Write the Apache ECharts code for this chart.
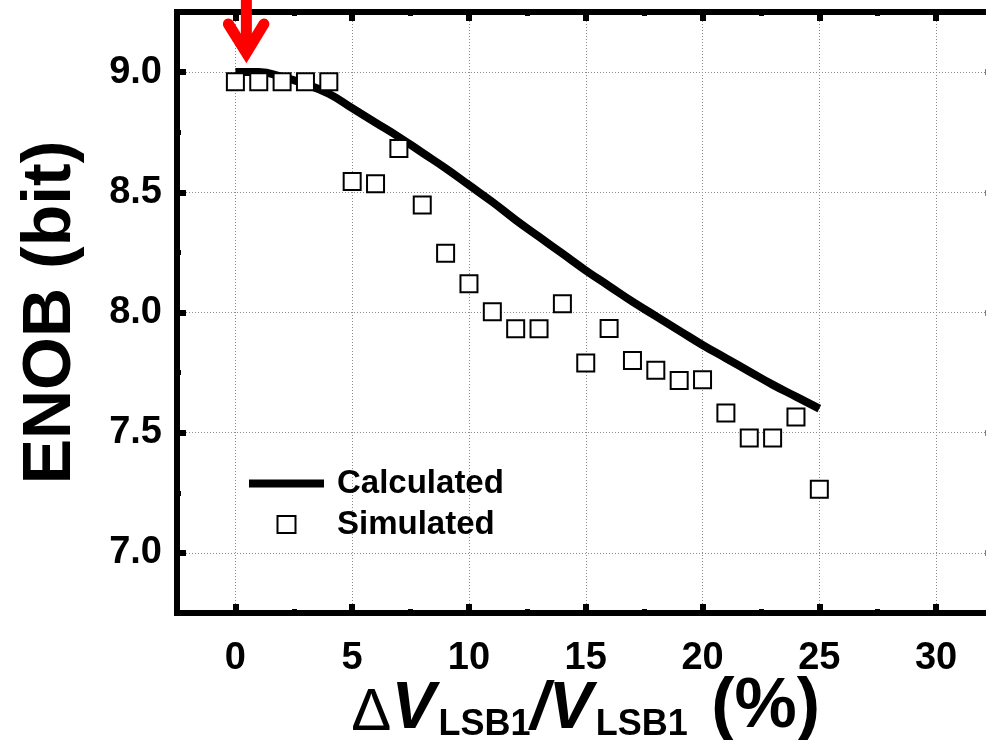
<!DOCTYPE html>
<html>
<head>
<meta charset="utf-8">
<script src="https://cdn.jsdelivr.net/npm/echarts@6/dist/echarts.min.js"></script>
<style>
html,body{margin:0;padding:0;background:#fff;overflow:hidden;width:986px;height:740px}
#c{width:1000px;height:740px}
</style>
</head>
<body>
<div id="c"></div>
<script>
// ---- data ----
const simX = [0,1,2,3,4,5,6,7,8,9,10,11,12,13,14,15,16,17,18,19,20,21,22,23,24,25];
const simY = [8.96,8.96,8.96,8.96,8.96,8.545,8.536,8.682,8.447,8.246,8.12,8.003,7.932,7.932,8.036,7.79,7.933,7.80,7.76,7.717,7.72,7.582,7.478,7.478,7.565,7.265];
const calcX = [0,1,2,3,4,5,6,7,8,9,10,11,12,13,14,15,16,17,18,19,20,21,22,23,24,25];
const calcY = [9.00,9.00,8.98,8.95,8.91,8.85,8.79,8.73,8.665,8.60,8.53,8.46,8.385,8.315,8.245,8.175,8.11,8.045,7.985,7.925,7.865,7.81,7.755,7.70,7.65,7.60];
// red arrow annotation (data coordinates)
const arrowShaftX = [0.47, 0.47];
const arrowShaftY = [9.33, 9.10];
const arrowHeadX = [-0.30, 0.47, 1.22];
const arrowHeadY = [9.20, 9.08, 9.20];
const xMin = -2.5, xMax = 32.5;
const yMin = 6.75, yMax = 9.25;

const FONT = "'Liberation Sans', Arial, Helvetica, sans-serif";
const zip = (a, b) => a.map((v, i) => [v, b[i]]);

const chart = echarts.init(document.getElementById('c'), null, {renderer: 'canvas', width: 1000, height: 740});

const axisLineStyle = {color: '#000', width: 6, cap: 'square'};
const gridLine = {show: true, lineStyle: {color: '#8a8a8a', width: 1, type: [1, 2]}};

function mainX(pos, labels) {
  return {
    type: 'value', position: pos, min: xMin, max: xMax, splitNumber: 7,
    axisLine: {show: true, onZero: false, lineStyle: axisLineStyle},
    axisTick: {show: true, inside: true, length: 9, lineStyle: {color: '#000', width: 6}},
    axisLabel: {
      show: labels, margin: 31, lineHeight: 30, color: '#000', fontFamily: FONT, fontWeight: 'bold', fontSize: 38,
      formatter: v => (Math.abs(v % 5) < 1e-9 ? String(v) : '')
    },
    splitLine: labels ? gridLine : {show: false}
  };
}
function minorX(pos) {
  return {
    type: 'value', position: pos, min: xMin, max: xMax, interval: 5,
    axisLine: {show: false, onZero: false},
    axisTick: {show: true, inside: true, length: 4, lineStyle: {color: '#000', width: 5}},
    axisLabel: {show: false}, splitLine: {show: false}
  };
}
function mainY(pos, labels) {
  return {
    type: 'value', position: pos, min: yMin, max: yMax, splitNumber: 5,
    axisLine: {show: true, onZero: false, lineStyle: axisLineStyle},
    axisTick: {show: true, inside: true, length: 9, lineStyle: {color: '#000', width: 6}},
    axisLabel: {
      show: labels, margin: 15, color: '#000', fontFamily: FONT, fontWeight: 'bold', fontSize: 38,
      formatter: v => (Math.abs(v * 2 - Math.round(v * 2)) < 1e-9 ? v.toFixed(1) : '')
    },
    splitLine: labels ? gridLine : {show: false}
  };
}
function minorY(pos) {
  return {
    type: 'value', position: pos, min: yMin, max: yMax, interval: 0.5,
    axisLine: {show: false, onZero: false},
    axisTick: {show: true, inside: true, length: 4, lineStyle: {color: '#000', width: 5}},
    axisLabel: {show: false}, splitLine: {show: false}
  };
}

const xMainBottom = mainX('bottom', true);
xMainBottom.name = '{d|\u0394}{v|V}{s|LSB1}{v|/V}{s|LSB1}{p| (%)}';
xMainBottom.nameLocation = 'middle';
xMainBottom.nameGap = 66;
xMainBottom.nameMoveOverlap = false;
xMainBottom.nameTextStyle = {
  color: '#000', fontFamily: FONT,
  rich: {
    d: {fontFamily: FONT, fontSize: 60, fontWeight: 'normal', lineHeight: 64, verticalAlign: 'bottom', color: '#000'},
    v: {fontFamily: FONT, fontSize: 66, fontWeight: 'bold', fontStyle: 'italic', lineHeight: 64, verticalAlign: 'bottom', color: '#000', padding: [0, 3, 0, 0]},
    s: {fontFamily: FONT, fontSize: 36, fontWeight: 'bold', lineHeight: 28, verticalAlign: 'bottom', color: '#000'},
    p: {fontFamily: FONT, fontSize: 70, fontWeight: 'bold', lineHeight: 64, verticalAlign: 'bottom', color: '#000', padding: [0, 0, 0, 4]}
  }
};

const yMainLeft = mainY('left', true);
yMainLeft.name = 'ENOB (bit)';
yMainLeft.nameLocation = 'middle';
yMainLeft.nameGap = 92;
yMainLeft.nameMoveOverlap = false;
yMainLeft.nameTextStyle = {color: '#000', fontFamily: FONT, fontWeight: 'bold', fontSize: 68};

const option = {
  backgroundColor: '#fff',
  animation: false,
  grid: {left: 177, right: 5.5, top: 12, bottom: 127, containLabel: false, outerBoundsMode: 'none'},
  legend: {
    left: 248, top: 467, orient: 'vertical', padding: 0,
    itemWidth: 75, itemHeight: 18, itemGap: 8,
    textStyle: {color: '#000', fontFamily: FONT, fontWeight: 'bold', fontSize: 33, lineHeight: 32, padding: [0, 0, 0, 8]},
    data: [
      {name: 'Calculated', icon: 'path://M0,0M75,18M0,5H75V13H0Z', itemStyle: {color: '#000', borderWidth: 0}},
      {name: 'Simulated', icon: 'path://M0,0M75,18M28.5,0.5H46.5V17.5H28.5Z', itemStyle: {color: '#fff', borderColor: '#000', borderWidth: 2}}
    ]
  },
  xAxis: [xMainBottom, minorX('bottom'), mainX('top', false), minorX('top')],
  yAxis: [yMainLeft, minorY('left'), mainY('right', false), minorY('right')],
  series: [
    {
      name: 'Calculated', type: 'line', xAxisIndex: 0, yAxisIndex: 0,
      data: zip(calcX, calcY), smooth: true, showSymbol: false, symbol: 'none',
      lineStyle: {color: '#000', width: 8}, itemStyle: {color: '#000'}, z: 3
    },
    {
      name: 'Simulated', type: 'scatter', xAxisIndex: 0, yAxisIndex: 0,
      data: zip(simX, simY), symbol: 'rect', symbolSize: 17,
      itemStyle: {color: '#fff', borderColor: '#000', borderWidth: 2, opacity: 1}, z: 4
    },
    {
      name: 'arrowShaft', type: 'line', xAxisIndex: 0, yAxisIndex: 0, clip: false, silent: true,
      data: zip(arrowShaftX, arrowShaftY), showSymbol: false, symbol: 'none',
      lineStyle: {color: '#ff0000', width: 11, cap: 'butt'}, z: 10
    },
    {
      name: 'arrowHead', type: 'line', xAxisIndex: 0, yAxisIndex: 0, clip: false, silent: true,
      data: zip(arrowHeadX, arrowHeadY), showSymbol: false, symbol: 'none',
      lineStyle: {color: '#ff0000', width: 11, cap: 'round', join: 'miter'}, z: 10
    }
  ]
};
chart.setOption(option);
</script>
</body>
</html>
